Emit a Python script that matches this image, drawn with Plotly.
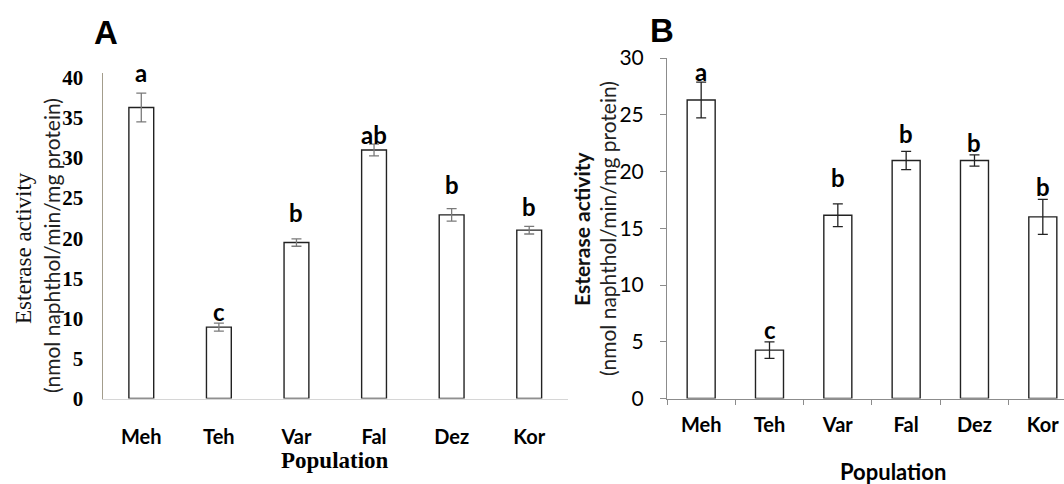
import plotly.graph_objects as go

W, H = 1064, 484

populations = ["Meh", "Teh", "Var", "Fal", "Dez", "Kor"]

# Panel A
values_a = [36.3, 8.9, 19.45, 31.0, 22.9, 21.0]
errors_a = [1.8, 0.5, 0.46, 0.73, 0.78, 0.48]
letters_a = ["a", "c", "b", "ab", "b", "b"]

# Panel B
values_b = [26.3, 4.26, 16.15, 20.97, 20.97, 16.0]
errors_b = [1.57, 0.73, 1.0, 0.8, 0.5, 1.54]
letters_b = ["a", "c", "b", "b", "b", "b"]

ticks_a = [0, 5, 10, 15, 20, 25, 30, 35, 40]
ticks_b = [0, 5, 10, 15, 20, 25, 30]

# letter offsets above the error bar (px)
shift_a = [21, 12, 26, 10, 24, 20]
shift_b = [11, 12, 26, 18, 12, 13]

SANS = "Lato"
SERIF = "Liberation Serif"

def px_x(p):
    return p / W

def px_y(p):
    return 1 - p / H

fig = go.Figure()

fig.add_trace(go.Bar(
    x=populations, y=values_a, xaxis="x", yaxis="y", width=0.32,
    marker=dict(color="white", line=dict(color="#222222", width=1.4)),
    error_y=dict(type="data", array=errors_a, visible=True, color="#7a7a7a", thickness=1.3, width=5),
    showlegend=False, hoverinfo="skip",
))
fig.add_trace(go.Bar(
    x=populations, y=values_b, xaxis="x2", yaxis="y2", width=0.41,
    marker=dict(color="white", line=dict(color="#222222", width=1.4)),
    error_y=dict(type="data", array=errors_b, visible=True, color="#222222", thickness=1.3, width=5),
    showlegend=False, hoverinfo="skip",
))

fig.update_layout(
    width=W, height=H,
    margin=dict(l=0, r=0, t=0, b=0, pad=0, autoexpand=False),
    paper_bgcolor="white", plot_bgcolor="white",
    xaxis=dict(
        domain=[px_x(102.5), px_x(568)], anchor="y", automargin=False,
        range=[-0.5, 5.5], showline=True, linecolor="#d6d6d6", linewidth=1,
        showgrid=False, ticks="", zeroline=False,
        tickfont=dict(family=SANS, size=20, color="black", weight="bold"),
        ticklabelstandoff=20,
    ),
    yaxis=dict(
        domain=[1 - 398.5 / H, 1 - 73 / H], anchor="x", automargin=False,
        range=[0, 40.6], tickvals=ticks_a, showline=True, linecolor="#a39d8c", linewidth=1.2,
        showgrid=False, ticks="", zeroline=False,
        tickfont=dict(family=SERIF, size=21, color="black", weight="bold"),
        ticklabelstandoff=14,
    ),
    xaxis2=dict(
        domain=[px_x(667), 1], anchor="y2", automargin=False,
        range=[-0.5, 5.31], showline=True, linecolor="#8c8c8c", linewidth=1,
        showgrid=False, ticks="outside", ticklen=5, tickcolor="#8c8c8c",
        tickson="boundaries", zeroline=False,
        tickfont=dict(family=SANS, size=20, color="black", weight="bold"),
        ticklabelstandoff=8,
    ),
    yaxis2=dict(
        domain=[1 - 398.5 / H, 1 - 58 / H], anchor="x2", automargin=False,
        range=[0, 30], tickvals=ticks_b, showline=True, linecolor="#8c8c8c", linewidth=1,
        showgrid=False, ticks="outside", ticklen=6, tickcolor="#8c8c8c", zeroline=False,
        tickfont=dict(family=SANS, size=21, color="black"),
        ticklabelstandoff=12,
    ),
)

ann = []
for i, p in enumerate(populations):
    ann.append(dict(x=p, y=values_a[i] + errors_a[i], xref="x", yref="y", text=letters_a[i],
                    showarrow=False, yanchor="middle", yshift=shift_a[i],
                    font=dict(family=SANS, size=24, color="black", weight="bold")))
    ann.append(dict(x=p, y=values_b[i] + errors_b[i], xref="x2", yref="y2", text=letters_b[i],
                    showarrow=False, yanchor="middle", yshift=shift_b[i],
                    font=dict(family=SANS, size=24, color="black", weight="bold")))

# panel labels
ann.append(dict(x=px_x(106), y=px_y(32), xref="paper", yref="paper", text="A", showarrow=False,
                xanchor="center", yanchor="middle", font=dict(family="Liberation Sans", size=33, color="black", weight="bold")))
ann.append(dict(x=px_x(662), y=px_y(31), xref="paper", yref="paper", text="B", showarrow=False,
                xanchor="center", yanchor="middle", font=dict(family="Liberation Sans", size=33, color="black", weight="bold")))

# y axis titles
ann.append(dict(x=px_x(24), y=px_y(248), xref="paper", yref="paper", text="Esterase activity",
                textangle=-90, showarrow=False, xanchor="center", yanchor="middle",
                font=dict(family=SERIF, size=23, color="#111111")))
ann.append(dict(x=px_x(51), y=px_y(246), xref="paper", yref="paper", text="(nmol naphthol/min/mg protein)",
                textangle=-90, showarrow=False, xanchor="center", yanchor="middle",
                font=dict(family=SANS, size=21, color="#222222")))
ann.append(dict(x=px_x(582), y=px_y(229), xref="paper", yref="paper", text="Esterase activity",
                textangle=-90, showarrow=False, xanchor="center", yanchor="middle",
                font=dict(family=SANS, size=21, color="#111111", weight="bold")))
ann.append(dict(x=px_x(608), y=px_y(229), xref="paper", yref="paper", text="(nmol naphthol/min/mg protein)",
                textangle=-90, showarrow=False, xanchor="center", yanchor="middle",
                font=dict(family=SANS, size=21, color="#222222")))

# x axis titles
ann.append(dict(x=px_x(335), y=px_y(460), xref="paper", yref="paper", text="Population",
                showarrow=False, xanchor="center", yanchor="middle",
                font=dict(family=SERIF, size=23, color="black", weight="bold")))
ann.append(dict(x=px_x(893), y=px_y(471), xref="paper", yref="paper", text="Population",
                showarrow=False, xanchor="center", yanchor="middle",
                font=dict(family=SANS, size=22, color="black", weight="bold")))

fig.update_layout(annotations=ann)

fig.write_html(
    "out.html",
    config={"displayModeBar": False},
    post_script="document.body.style.margin='0px';document.body.style.overflow='hidden';",
)
